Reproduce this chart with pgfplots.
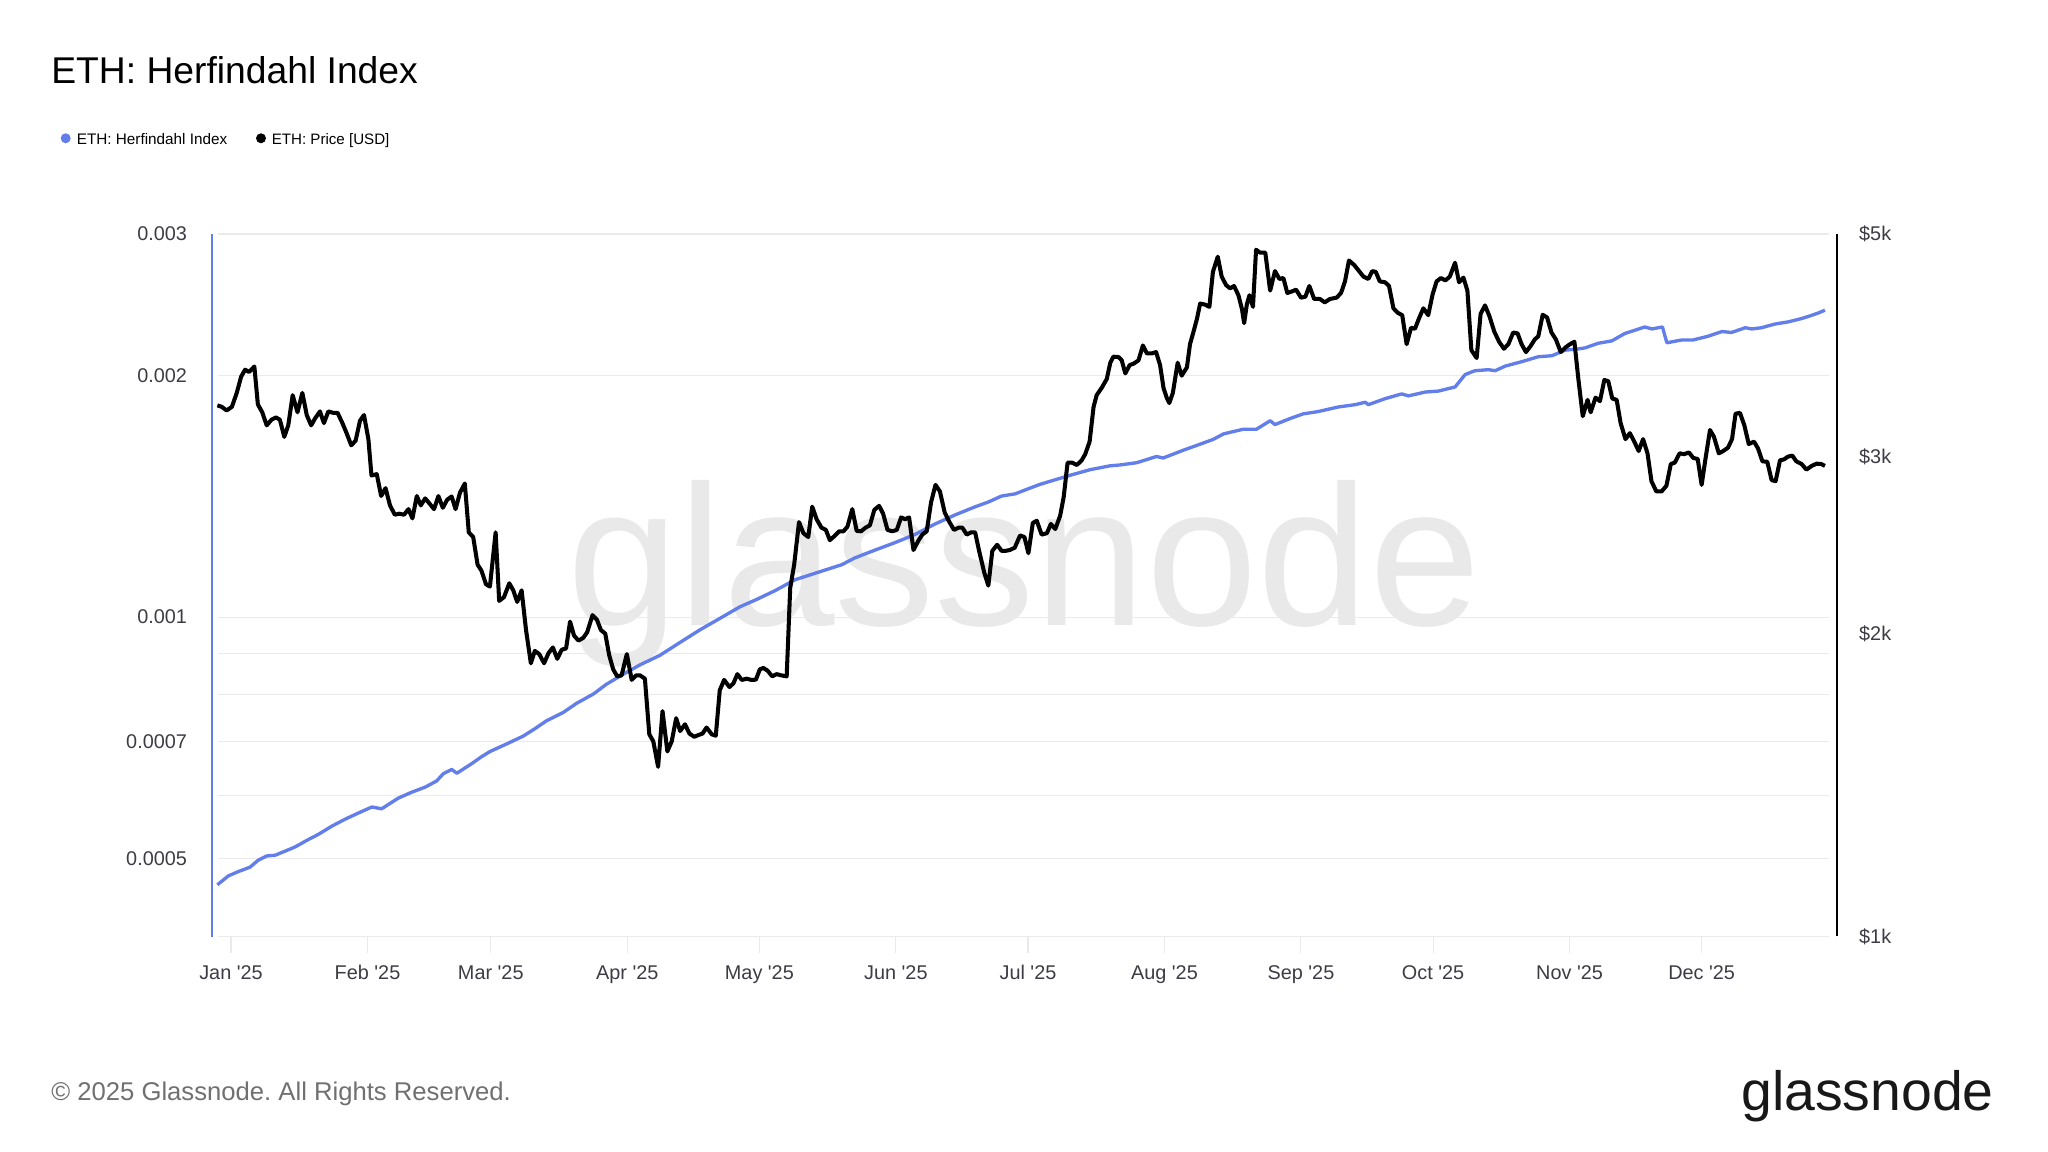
\documentclass[border=0pt]{standalone}
\usepackage{fontspec}
\setmainfont{Liberation Sans}
\newfontfamily\lab{Liberation Sans}
\usepackage{pgfplots}
\pgfplotsset{compat=1.18}
\usepackage{pgfplotstable}
\frenchspacing
\definecolor{ethblue}{RGB}{98,126,234}
\definecolor{labelcol}{RGB}{60,60,68}
\definecolor{gridcol}{RGB}{234,234,234}
\definecolor{wmcol}{RGB}{233,233,233}
\definecolor{footcol}{RGB}{112,112,112}
\definecolor{logocol}{RGB}{24,24,24}

\pgfplotstableread{
d h
-3.1 0.000464
-0.6 0.000476
1.7 0.000482
4.3 0.000488
6.2 0.000498
8.1 0.000504
10 0.000505
11.9 0.000510
14.5 0.000517
17.2 0.000527
19.8 0.000536
22.9 0.000549
25.9 0.000560
28.9 0.000570
32 0.000580
34.2 0.000577
38 0.000595
41 0.000605
44.1 0.000614
46.7 0.000625
48.2 0.000638
50.1 0.000646
51.3 0.000639
54.7 0.000657
56.9 0.000670
58.8 0.000680
62.6 0.000695
66.4 0.000711
69 0.000726
71.7 0.000743
75.5 0.000761
78.5 0.000781
82.3 0.000802
85.3 0.000825
89.1 0.000849
92.9 0.000872
97.4 0.000896
102 0.000930
106.5 0.000964
111 0.000996
115.6 0.001030
119.4 0.001052
123.6 0.001079
128.1 0.001113
134.2 0.001141
138.7 0.001162
141.7 0.001185
146.3 0.001212
150.8 0.001238
155.3 0.001267
159.9 0.001306
164.4 0.001340
169 0.001372
172 0.001391
175 0.001415
178.1 0.001424
181.1 0.001445
183.7 0.001463
186 0.001476
190.6 0.001502
195.1 0.001526
199.6 0.001543
201.9 0.001547
205.7 0.001557
210.2 0.001585
211.7 0.001578
216.3 0.001614
219.3 0.001636
223.1 0.001665
225.4 0.001691
229.9 0.001714
232.9 0.001714
236 0.001756
237.1 0.001737
240.5 0.001767
243.5 0.001791
246.9 0.001803
251.5 0.001827
255.3 0.001839
257.6 0.001852
258.3 0.001839
262.1 0.001871
265.9 0.001897
267.4 0.001886
271.2 0.001907
274.2 0.001912
278 0.001935
280.3 0.002005
282.5 0.002027
285.6 0.002033
287.1 0.002027
289.4 0.002054
293.1 0.002080
296.9 0.002110
300 0.002116
303 0.002150
306 0.002158
307.5 0.002164
310.5 0.002193
313.6 0.002208
316.6 0.002256
318.9 0.002277
321.1 0.002298
322.7 0.002285
325.1 0.002298
326.1 0.002196
329.5 0.002214
332.1 0.002214
335.5 0.002238
338.6 0.002268
340.8 0.002262
343.9 0.002293
345.4 0.002285
347.6 0.002293
350.6 0.002317
353.7 0.002332
356.7 0.002354
359 0.002376
360.5 0.002392
362 0.002411
}\hidx

\pgfplotstableread{
d p
-3.1 3376
-2.1 3365
-1.0 3337
0.2 3365
1.3 3474
2.3 3606
3.2 3664
4.1 3645
5.3 3691
6.1 3383
7.1 3323
8.1 3225
9.2 3267
10.2 3284
11.1 3267
12.1 3141
13.0 3225
14.0 3456
15.1 3323
16.2 3474
17.2 3302
18.2 3225
19.1 3277
20.2 3330
21.1 3242
22.1 3330
23.2 3319
24.2 3319
25.3 3242
26.3 3164
27.3 3081
28.3 3114
29.3 3260
30.2 3302
31.2 3125
31.9 2875
33.1 2884
34.1 2743
35.1 2793
36.1 2685
37.2 2628
38.2 2634
39.3 2628
40.3 2662
41.2 2606
42.2 2743
43.1 2685
44.1 2728
45.0 2699
46.1 2662
47.1 2743
48.1 2670
49.1 2720
50.1 2740
51.0 2662
52.0 2764
53.1 2823
54.0 2524
55.0 2497
56.0 2344
56.9 2311
57.9 2241
58.8 2229
60.1 2524
60.9 2157
62.0 2176
63.2 2246
64.1 2210
65.0 2152
66.0 2210
67.0 2018
68.1 1870
69.0 1924
70.0 1910
71.1 1870
72.1 1914
73.1 1939
74.1 1889
75.1 1929
76.1 1935
77.0 2057
77.9 1993
78.9 1970
80.0 1982
80.9 2008
82.1 2088
83.1 2066
84.0 2018
85.0 2001
85.9 1904
86.8 1844
87.7 1815
88.7 1819
89.9 1910
91.0 1800
92.0 1819
92.9 1819
94.0 1805
95.0 1589
95.9 1564
97.0 1475
98.0 1676
99.1 1528
100.1 1564
101.1 1649
102.0 1601
103.1 1626
104.1 1592
105.2 1580
106.1 1586
107.1 1592
108.0 1614
109.2 1589
110.1 1584
111.0 1758
112.0 1800
113.2 1771
114.1 1786
115.0 1824
116.0 1800
117.1 1805
118.2 1800
119.2 1801
120.1 1844
120.9 1850
121.9 1838
122.9 1815
123.9 1824
125.0 1819
126.2 1815
127.0 2222
127.9 2344
129.0 2584
130.0 2519
131.1 2497
132.0 2677
133.0 2601
134.1 2551
135.1 2538
136.0 2479
137.2 2506
138.1 2530
139.1 2530
140.0 2557
141.1 2662
142.1 2532
143.1 2530
144.1 2551
145.1 2565
146.1 2657
147.2 2682
148.1 2634
149.1 2538
150.2 2530
151.2 2538
152.2 2612
153.1 2601
154.0 2612
155.0 2424
156.1 2476
157.0 2511
158.0 2530
159.0 2705
160.0 2814
161.0 2772
162.1 2640
163.1 2587
164.2 2538
165.2 2551
166.1 2551
167.1 2511
168.1 2524
169.0 2524
169.9 2419
171.1 2299
172.0 2234
172.9 2419
174.0 2453
175.0 2419
175.9 2419
176.9 2424
178.0 2437
179.2 2506
180.2 2497
181.1 2406
182.1 2579
183.0 2592
184.1 2511
185.3 2519
186.2 2573
187.2 2543
188.3 2621
189.1 2734
190.0 2961
191.0 2961
192.1 2945
193.2 2977
194.0 3019
195.0 3107
195.9 3365
196.6 3456
197.8 3518
198.9 3587
199.7 3723
200.4 3775
201.6 3771
202.3 3743
203.1 3633
204.1 3703
205.0 3715
206.1 3743
207.1 3873
208.0 3803
209.1 3803
210.1 3815
211.0 3703
211.8 3511
212.5 3437
213.1 3394
213.9 3474
215.0 3723
215.9 3614
217.1 3684
217.8 3885
218.7 4012
219.4 4120
220.1 4263
221.2 4253
222.2 4231
223.0 4583
224.1 4746
225.0 4534
226.0 4447
226.9 4414
227.8 4438
228.8 4345
229.6 4209
230.1 4076
230.7 4253
231.3 4345
232.1 4231
232.8 4822
233.7 4791
234.9 4791
236.0 4391
237.1 4592
238.1 4510
239.0 4520
239.9 4368
240.9 4382
241.9 4401
243.0 4321
244.0 4330
244.9 4438
246.0 4308
247.3 4308
248.4 4275
249.6 4308
251.1 4321
252.1 4368
253.0 4485
253.9 4705
255.1 4656
256.2 4592
257.2 4534
258.3 4510
259.2 4592
260.0 4583
260.9 4485
262.1 4476
263.0 4438
264.0 4217
265.0 4173
266.0 4151
267.0 3885
268.0 4033
268.9 4024
269.8 4120
270.8 4217
271.9 4151
272.9 4354
273.8 4485
274.8 4520
275.8 4495
276.8 4534
278.0 4681
278.9 4476
279.9 4524
280.8 4391
281.7 3832
282.9 3763
283.8 4164
284.8 4245
285.8 4142
286.9 3999
288.0 3906
289.1 3844
290.1 3885
291.2 3990
292.2 3982
293.1 3885
294.1 3815
295.1 3865
296.1 3927
296.9 3956
297.9 4155
298.9 4129
299.9 3990
300.9 3927
302.0 3815
303.1 3856
304.1 3885
305.1 3906
306.0 3587
307.0 3294
308.1 3419
308.8 3323
309.9 3437
310.9 3409
311.9 3579
312.8 3568
313.7 3430
314.7 3419
315.6 3242
316.7 3125
317.7 3168
318.7 3107
319.7 3041
320.7 3125
321.7 3025
322.6 2838
323.7 2772
324.9 2772
326.0 2808
327.0 2952
327.9 2961
329.0 3025
330.0 3019
331.1 3031
332.1 2993
333.1 2986
334.0 2814
334.9 2993
335.9 3191
336.8 3141
337.9 3025
338.9 3041
340.0 3065
340.9 3125
341.7 3312
342.7 3319
343.7 3225
344.7 3090
345.9 3107
346.8 3059
347.8 2970
348.9 2967
349.9 2844
350.8 2838
351.8 2977
352.7 2983
353.6 3002
354.6 3009
355.5 2970
356.7 2952
357.8 2914
359.0 2939
360.1 2954
361.1 2952
362.0 2939
}\price

\begin{document}
\begin{tikzpicture}[x=1cm,y=1cm]
\path[use as bounding box] (0,0) rectangle (40.96,23.04);
% watermark
\node[anchor=base west, inner sep=0pt, text=wmcol] at (11.34,10.52) {\lab\fontsize{114}{120}\selectfont glassnode};
% title
\node[anchor=base west, inner sep=0pt] at (1.02,21.374) {\lab\fontsize{21.2}{25}\selectfont ETH: Herfindahl Index};
% legend
\fill[ethblue] (1.314,20.274) circle[radius=0.1];
\node[anchor=base west, inner sep=0pt] at (1.53,20.154) {\lab\fontsize{8.7}{11}\selectfont ETH: Herfindahl Index};
\fill[black] (5.22,20.274) circle[radius=0.1];
\node[anchor=base west, inner sep=0pt] at (5.43,20.154) {\lab\fontsize{8.6}{11}\selectfont ETH: Price [USD]};
% footer
\node[anchor=base west, inner sep=0pt, text=footcol] at (1.02,1.02) {\lab\fontsize{14.6}{17}\selectfont © 2025 Glassnode. All Rights Reserved.};
\node[anchor=base east, inner sep=0pt, text=logocol] at (39.88,0.82) {\lab\fontsize{31.5}{36}\selectfont glassnode};

\begin{axis}[
  at={(4.246cm,4.31cm)}, anchor=south west,
  scale only axis, width=32.49cm, height=14.05cm,
  xmin=-4.25, xmax=364.7,
  ymode=log, ymin=0.0004, ymax=0.003,
  axis line style={draw=none},
  clip=false,
  xtick={0,31,59,90,120,151,181,212,243,273,304,334},
  xticklabels={Jan '25,Feb '25,Mar '25,Apr '25,May '25,Jun '25,Jul '25,Aug '25,Sep '25,Oct '25,Nov '25,Dec '25},
  ytick={0.0004,0.0005,0.0006,0.0007,0.0008,0.0009,0.001,0.002,0.003},
  yticklabels={,0.0005,,0.0007,,,0.001,0.002,0.003},
  major tick length=0pt, tick style={draw=none},
  yticklabel pos=left,
  xticklabel style={anchor=north, inner sep=0pt, yshift=-0.57cm, font=\lab\fontsize{11.3}{13}\selectfont, text=labelcol},
  yticklabel style={anchor=east, inner sep=0pt, xshift=-0.5cm, font=\lab\fontsize{11.3}{13}\selectfont, text=labelcol},
]
\pgfplotsinvokeforeach{0.0004,0.0005,0.0006,0.0007,0.0008,0.0009,0.001,0.002,0.003}{
  \draw[gridcol, line width=0.6pt] (axis cs:-3,#1) -- (axis cs:363,#1);
}
\pgfplotsinvokeforeach{0,31,59,90,120,151,181,212,243,273,304,334}{
  \draw[gridcol, line width=0.6pt] (axis cs:#1,0.0004) -- ([yshift=-0.33cm]axis cs:#1,0.0004);
}
\addplot[ethblue, line width=1.9pt, line join=round, mark=none] table[x=d,y=h]{\hidx};
\draw[ethblue, line width=1pt] (rel axis cs:0,0) -- (rel axis cs:0,1);
\end{axis}

\begin{axis}[
  at={(4.246cm,4.31cm)}, anchor=south west,
  scale only axis, width=32.49cm, height=14.05cm,
  xmin=-4.25, xmax=364.7,
  ymode=log, ymin=1000, ymax=5000,
  axis line style={draw=none},
  clip=false,
  xtick=\empty,
  ytick={1000,2000,3000,5000},
  yticklabels={\$1k,\$2k,\$3k,\$5k},
  major tick length=0pt, tick style={draw=none},
  yticklabel pos=right,
  yticklabel style={anchor=west, inner sep=0pt, xshift=0.44cm, font=\lab\fontsize{11.3}{13}\selectfont, text=labelcol},
]
\addplot[black, line width=2.3pt, line join=round, mark=none] table[x=d,y=p]{\price};
\draw[black, line width=1.1pt] (rel axis cs:1,0) -- (rel axis cs:1,1);
\end{axis}
\end{tikzpicture}
\end{document}
